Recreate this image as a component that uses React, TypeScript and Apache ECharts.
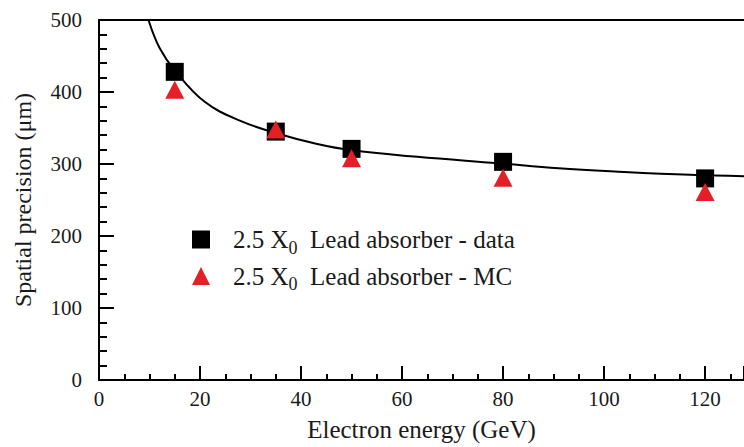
import React, { useEffect, useRef } from "react";
import * as echarts from "echarts";

const energies = [15, 35, 50, 80, 120];
const dataValues = [428, 345, 321, 303, 280];
const mcValues = [403, 348, 308, 281, 261];
const fitEnergy = [9.8, 12, 15, 21, 28, 35.5, 43, 50, 63, 79, 91, 104, 117, 128];
const fitValues = [500, 461, 430, 386, 360, 342, 328, 319, 310, 301, 294, 289, 285, 283];
const xTicks = [0, 20, 40, 60, 80, 100, 120];
const yTicks = [0, 100, 200, 300, 400, 500];
const seriesNames = ["data", "MC"];

const FONT = "'Liberation Serif', 'Times New Roman', serif";
const TEXT = "#1a1a1a";

export default function App() {
  const ref = useRef<HTMLDivElement>(null);
  useEffect(() => {
    if (!ref.current) return;
    const chart = echarts.init(ref.current, undefined, { renderer: "svg" });
    const axisCommon = {
      axisLine: { show: true, lineStyle: { color: "#000", width: 2 } },
      splitLine: { show: false },
    };
    chart.setOption({
      animation: false,
      backgroundColor: "#fff",
      textStyle: { fontFamily: FONT },
      grid: { left: 99, top: 20, right: 0, bottom: 63 },
      legend: {
        show: true,
        orient: "vertical",
        left: 192,
        top: 227,
        padding: 0,
        itemWidth: 18,
        itemHeight: 18,
        itemGap: 7,
        data: [
          { name: seriesNames[0], icon: "rect", itemStyle: { opacity: 1 } },
          { name: seriesNames[1], icon: "triangle", itemStyle: { opacity: 1 } },
        ],
        formatter: (name: string) =>
          `{a|2.5 X}{sub|0}{b|  Lead absorber - ${name}}`,
        textStyle: {
          fontFamily: FONT,
          color: TEXT,
          rich: {
            a: { fontSize: 25, lineHeight: 34, fontFamily: FONT, color: TEXT, padding: [0, 0, 0, 18] },
            sub: { fontSize: 18, lineHeight: 18, fontFamily: FONT, color: TEXT, verticalAlign: "bottom" },
            b: { fontSize: 25, lineHeight: 34, fontFamily: FONT, color: TEXT },
          },
        },
      },
      xAxis: [
        {
          type: "value",
          position: "bottom",
          min: xTicks[0],
          max: 127.7,
          interval: 20,
          ...axisCommon,
          axisTick: { show: true, inside: true, length: 14, lineStyle: { color: "#000", width: 2 } },
          minorTick: { show: true, splitNumber: 4, length: 6, lineStyle: { color: "#000", width: 2 } },
          axisLabel: {
            fontSize: 21,
            color: TEXT,
            fontFamily: FONT,
            margin: 8,
            showMaxLabel: false,
            formatter: (v: number) => (xTicks.includes(v) ? String(v) : ""),
          },
          name: "Electron energy (GeV)",
          nameLocation: "middle",
          nameGap: 37,
          nameTextStyle: { fontSize: 25, color: TEXT, fontFamily: FONT },
        },
        {
          type: "value",
          position: "top",
          min: xTicks[0],
          max: 127.7,
          ...axisCommon,
          axisTick: { show: false },
          axisLabel: { show: false },
        },
      ],
      yAxis: {
        type: "value",
        min: yTicks[0],
        max: yTicks[yTicks.length - 1],
        interval: 100,
        ...axisCommon,
        axisTick: { show: true, inside: true, length: 15, lineStyle: { color: "#000", width: 2 } },
        minorTick: { show: true, splitNumber: 5, length: 8, lineStyle: { color: "#000", width: 2 } },
        axisLabel: { fontSize: 21, color: TEXT, fontFamily: FONT, margin: 17 },
        name: "Spatial precision (μm)",
        nameLocation: "middle",
        nameGap: 64,
        nameTextStyle: { fontSize: 24, color: TEXT, fontFamily: FONT },
      },
      series: [
        {
          name: "fit",
          type: "line",
          xAxisIndex: 0,
          data: fitEnergy.map((e, i) => [e, fitValues[i]]),
          smooth: 0.4,
          showSymbol: false,
          symbol: "none",
          lineStyle: { color: "#000", width: 2 },
          z: 1,
          clip: true,
        },
        {
          name: seriesNames[0],
          type: "scatter",
          xAxisIndex: 0,
          data: energies.map((e, i) => [e, dataValues[i]]),
          symbol: "rect",
          symbolSize: 18,
          itemStyle: { color: "#000", opacity: 1 },
          z: 3,
        },
        {
          name: seriesNames[1],
          type: "scatter",
          xAxisIndex: 0,
          data: energies.map((e, i) => [e, mcValues[i]]),
          symbol: "triangle",
          symbolSize: [19, 18],
          itemStyle: { color: "#e51f28", opacity: 1 },
          z: 4,
        },
      ],
    });
    return () => chart.dispose();
  }, []);
  return (
    <div
      ref={ref}
      style={{ position: "fixed", left: 0, top: 0, width: 744, height: 447 }}
    />
  );
}
